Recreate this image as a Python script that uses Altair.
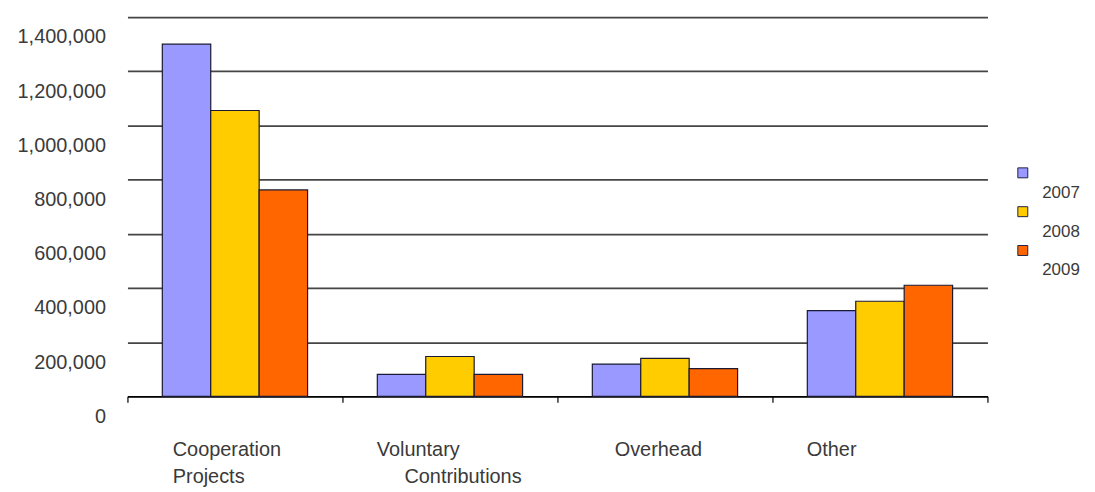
import altair as alt
import pandas as pd

categories = ["Cooperation Projects", "Voluntary Contributions", "Overhead", "Other"]
years = ["2007", "2008", "2009"]
values_2007 = [1300000, 81000, 119000, 316000]
values_2008 = [1055000, 147000, 140000, 351000]
values_2009 = [762000, 81000, 102000, 410000]
colors = ["#9999FF", "#FFCC00", "#FF6600"]
y_ticks = [0, 200000, 400000, 600000, 800000, 1000000, 1200000, 1400000]
indent = "\u200b" + "\u00a0" * 5
tick_label_lines = {
    "Cooperation Projects": ["Cooperation", "Projects"],
    "Voluntary Contributions": ["Voluntary", indent + "Contributions"],
    "Overhead": ["Overhead"],
    "Other": ["Other"],
}

rows = []
for yr, vals in zip(years, [values_2007, values_2008, values_2009]):
    for c, v in zip(categories, vals):
        rows.append({"category": c, "year": yr, "value": v})
df = pd.DataFrame(rows)

def js_list(lines):
    return "[" + ",".join("'" + s + "'" for s in lines) + "]"

label_expr = ""
for c in categories:
    label_expr += "datum.value === '%s' ? %s : " % (c, js_list(tick_label_lines[c]))
label_expr += "''"

label_offset = {
    "condition": [
        {"test": "datum.value === 'Overhead'", "value": -51},
        {"test": "datum.value === 'Cooperation Projects'", "value": -63},
    ],
    "value": -74,
}

font = "Liberation Sans"
text_color = "#3a3a3a"

chart = alt.Chart(df).mark_bar(stroke="#1a1a33", strokeWidth=1.2).encode(
    x=alt.X(
        "category:N",
        sort=categories,
        scale=alt.Scale(paddingInner=0, paddingOuter=0),
        axis=alt.Axis(
            title=None, labelAngle=0, tickBand="extent", ticks=True, tickSize=6,
            tickColor="black", tickWidth=1.2, domainColor="black", domainWidth=1.5,
            labelAlign="left", labelBaseline="top", labelPadding=37,
            labelFontSize=20, labelLineHeight=28, labelExpr=label_expr,
            labelOffset=label_offset, grid=False, labelLimit=0,
        ),
    ),
    xOffset=alt.XOffset("year:N", sort=years, scale=alt.Scale(paddingInner=0, paddingOuter=0.72)),
    y=alt.Y(
        "value:Q",
        scale=alt.Scale(domain=[0, 1400000], nice=False),
        axis=alt.Axis(
            title=None, values=y_ticks, labelExpr="format(datum.value, ',.0f')",
            domain=False, ticks=False, grid=True, gridColor="#454545", gridWidth=1.7,
            labelOffset=20, labelPadding=22, labelFontSize=20, labelBaseline="middle",
        ),
    ),
    color=alt.Color(
        "year:N",
        scale=alt.Scale(domain=years, range=colors),
        legend=alt.Legend(
            title=None, orient="none", legendX=891, legendY=148, padding=0,
            symbolType="square", symbolSize=100, symbolStrokeColor="#222244",
            symbolStrokeWidth=1, labelFontSize=17,
            labelBaseline="line-top", labelOffset=11, rowPadding=2,
        ),
    ),
).properties(
    width=864,
    height=381,
    autosize=alt.AutoSizeParams(type="none"),
    padding={"left": 120, "top": 8, "right": 100, "bottom": 90},
    background="white",
).configure(
    style={"guide-label": {"lineHeight": 40}},
    view={"stroke": None},
    axis={"labelFont": font, "labelColor": text_color},
    legend={"labelFont": font, "labelColor": text_color},
)

chart.save("out.html", embed_options={"renderer": "svg", "actions": False})
